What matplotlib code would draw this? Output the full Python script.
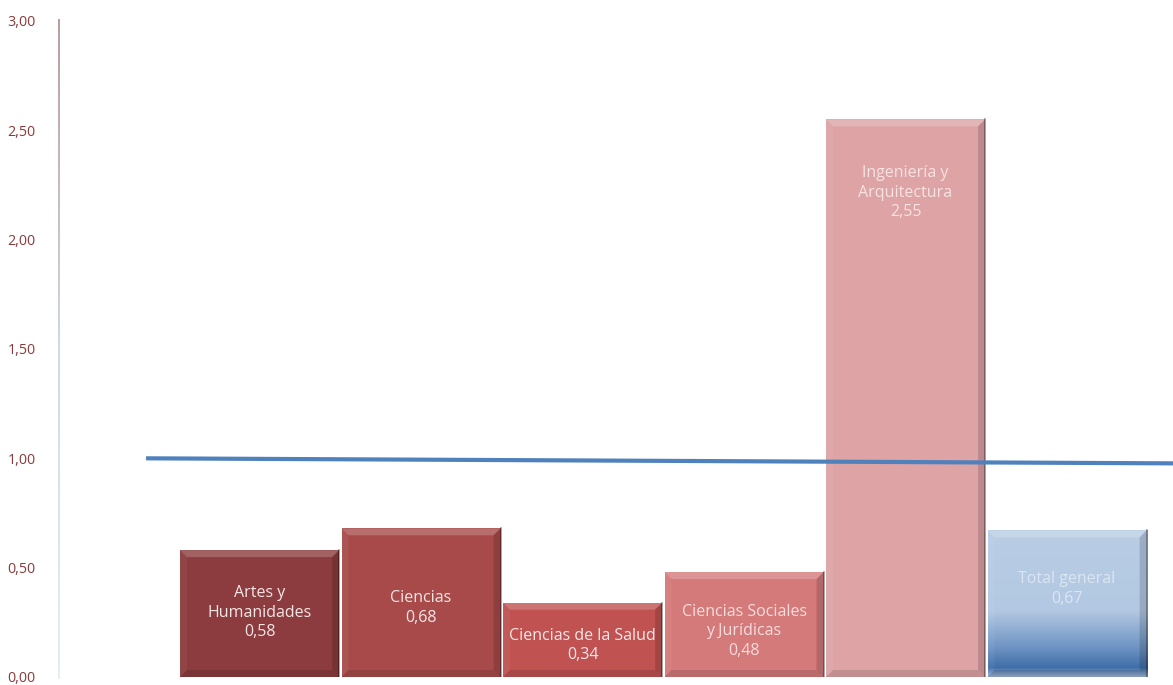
import matplotlib.pyplot as plt
import numpy as np
from matplotlib.collections import LineCollection
from matplotlib.patches import Polygon
from matplotlib.colors import LinearSegmentedColormap

categorias = ['Artes y\nHumanidades', 'Ciencias', 'Ciencias de la Salud',
              'Ciencias Sociales\ny Jurídicas', 'Ingeniería y\nArquitectura', 'Total general']
valores = [0.58, 0.68, 0.34, 0.48, 2.55, 0.67]
linea_ref = [1.00, 0.977]
yticks = [0, 0.5, 1.0, 1.5, 2.0, 2.5, 3.0]

colores = ['#8c3c3e', '#a84a4a', '#c05252', '#d47a7a', '#dda3a5', '#b9cde5']
colores_txt = ['#f3e6e6', '#f3e6e6', '#f5e8e8', '#f6dcdc', '#f6e2e2', '#dce6f2']
# desplazamiento del texto bajo el borde superior (pixeles)
offs_txt = [35, 62, 25, 32, 46, 41]

plt.rcParams['font.family'] = ['Open Sans', 'DejaVu Sans']

fig = plt.figure(figsize=(11.73, 6.85), dpi=100)
ax = fig.add_axes([59/1173, 8/685, 1 - 59/1173, 656/685])
ax.set_xlim(-1.242, 5.656)
ax.set_ylim(0, 3.0)

x = np.arange(len(valores))
barras = ax.bar(x, valores, width=0.985, color=colores, zorder=2)

# degradado de la barra total
cmap = LinearSegmentedColormap.from_list('azul', [(0, '#b9cde5'), (0.55, '#b3c8e2'),
                                                 (0.8, '#6f94c4'), (0.94, '#3f6ea8'),
                                                 (1.0, '#9bb4d4')])
b = barras[-1]
grad = np.linspace(0, 1, 200).reshape(-1, 1)
im = ax.imshow(grad, cmap=cmap, aspect='auto', zorder=2.5,
               extent=[b.get_x(), b.get_x() + b.get_width(), 0, b.get_height()])
im.set_clip_path(b)

# efecto de bisel
dx, dy = 7 / 161.5, 7 / 219
for r in barras:
    x0, w, h = r.get_x(), r.get_width(), r.get_height()
    x1 = x0 + w
    top = [(x0, h), (x1, h), (x1 - dx, h - dy), (x0 + dx, h - dy)]
    left = [(x0, 0), (x0, h), (x0 + dx, h - dy), (x0 + dx, dy)]
    right = [(x1, 0), (x1, h), (x1 - dx, h - dy), (x1 - dx, dy)]
    bot = [(x0, 0), (x1, 0), (x1 - dx, dy), (x0 + dx, dy)]
    ax.add_patch(Polygon(top, color='white', alpha=0.2, lw=0, zorder=3))
    ax.add_patch(Polygon(left, color='white', alpha=0.05, lw=0, zorder=3))
    ax.add_patch(Polygon(right, color='black', alpha=0.15, lw=0, zorder=3))
    ax.add_patch(Polygon(bot, color='black', alpha=0.12, lw=0, zorder=3))
    ax.plot([x1, x1], [0, h], color='black', alpha=0.4, lw=1.2, zorder=3)

for i, (cat, v) in enumerate(zip(categorias, valores)):
    etiqueta = cat + '\n' + ('%.2f' % v).replace('.', ',')
    ax.annotate(etiqueta, (x[i], v), xytext=(0, -offs_txt[i] * 0.72),
                textcoords='offset points', ha='center', va='top',
                fontsize=11.5, color=colores_txt[i], linespacing=1.28, zorder=4)

# linea de referencia
ax.plot([-0.69, 5.66], linea_ref, color='#4f81bd', lw=3, zorder=5, clip_on=False)

# eje vertical con degradado
ys = np.linspace(-0.01, 3.01, 100)
segs = [[(-1.242, ys[k]), (-1.242, ys[k + 1])] for k in range(len(ys) - 1)]
cm_eje = LinearSegmentedColormap.from_list('eje', ['#e3ecf3', '#c9d6e0', '#b89294'])
lc = LineCollection(segs, colors=cm_eje(np.linspace(0, 1, len(segs))), lw=1.3,
                    clip_on=False, zorder=6)
ax.add_collection(lc)

for s in ax.spines.values():
    s.set_visible(False)
ax.set_xticks([])
ax.set_yticks(yticks)
ax.set_yticklabels([('%.2f' % t).replace('.', ',') for t in yticks])
ax.tick_params(axis='y', length=0, pad=17, labelsize=10.3, labelcolor='#8b3a3a')

plt.savefig('out.png', dpi=100)
